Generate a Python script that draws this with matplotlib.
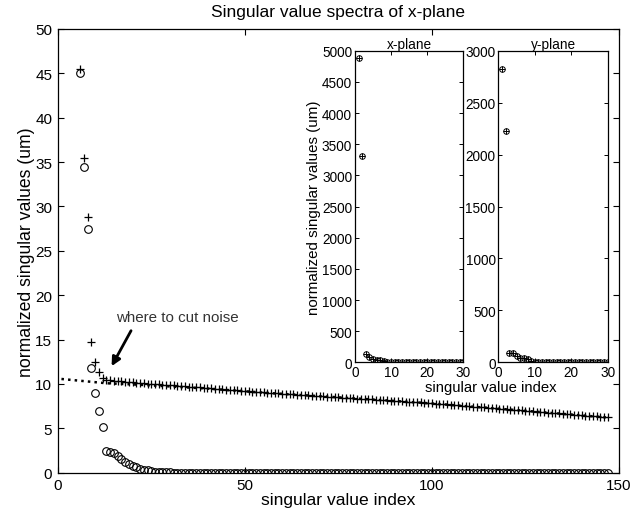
import numpy as np
import matplotlib
matplotlib.use('Agg')
import matplotlib.pyplot as plt

plt.rcParams['font.family'] = ['Liberation Sans', 'DejaVu Sans']

# main plot: normalized singular values, index 6..147
main_idx = np.arange(6, 148)

plus_vals = [45.5, 35.5, 28.8, 14.7, 12.5, 11.3, 10.7, 10.45,
             10.40, 10.36, 10.33, 10.29, 10.25, 10.22, 10.18,
             10.15, 10.12, 10.09, 10.05, 10.02, 9.99, 9.96, 9.92, 9.89, 9.86,
             9.83, 9.79, 9.76, 9.73, 9.70, 9.67, 9.63, 9.60, 9.57, 9.54,
             9.50, 9.47, 9.44, 9.40, 9.37, 9.34, 9.31, 9.27, 9.24, 9.21,
             9.17, 9.14, 9.11, 9.08, 9.04, 9.01, 8.98, 8.95, 8.93, 8.90,
             8.87, 8.85, 8.82, 8.79, 8.77, 8.74, 8.71, 8.69, 8.66, 8.63,
             8.61, 8.58, 8.55, 8.53, 8.50, 8.47, 8.44, 8.42, 8.39, 8.36,
             8.34, 8.31, 8.28, 8.26, 8.23, 8.20, 8.18, 8.15, 8.12, 8.10,
             8.07, 8.04, 8.01, 7.99, 7.96, 7.93, 7.91, 7.88, 7.85, 7.82,
             7.79, 7.75, 7.72, 7.69, 7.65, 7.62, 7.58, 7.55, 7.52, 7.48,
             7.45, 7.42, 7.38, 7.35, 7.32, 7.28, 7.25, 7.21, 7.18, 7.15,
             7.11, 7.08, 7.05, 7.01, 6.98, 6.95, 6.91, 6.88, 6.84, 6.81,
             6.78, 6.74, 6.71, 6.68, 6.64, 6.61, 6.58, 6.54, 6.51, 6.47,
             6.44, 6.41, 6.37, 6.34, 6.31, 6.27, 6.24]

circle_vals = [45.0, 34.5, 27.5, 11.8, 9.0, 7.0, 5.1, 2.4, 2.35, 2.2,
               1.9, 1.55, 1.25, 1.0, 0.8, 0.6, 0.45, 0.35, 0.25, 0.18,
               0.12, 0.08, 0.05, 0.03,
               0.03, 0.02, 0.02, 0.02, 0.02, 0.02, 0.02, 0.02, 0.02, 0.02,
               0.02, 0.02, 0.02, 0.02, 0.02, 0.01, 0.01, 0.01, 0.01, 0.01,
               0.01, 0.01, 0.01, 0.01, 0.01, 0.01, 0.01, 0.01, 0.01, 0.01,
               0.01, 0.01, 0.01, 0.01, 0.01, 0.01, 0.01, 0.01, 0.01, 0.01,
               0.01, 0.01, 0.01, 0.01, 0.01, 0.01, 0.01, 0.01, 0.01, 0.01,
               0.01, 0.01, 0.01, 0.01, 0.01, 0.01, 0.01, 0.01, 0.01, 0.01,
               0.01, 0.01, 0.01, 0.01, 0.01, 0.01, 0.01, 0.01, 0.01, 0.01,
               0.01, 0.01, 0.01, 0.01, 0.01, 0.01, 0.01, 0.01, 0.01, 0.01,
               0.01, 0.01, 0.01, 0.01, 0.01, 0.01, 0.01, 0.01, 0.01, 0.01,
               0.01, 0.01, 0.01, 0.01, 0.01, 0.01, 0.01, 0.01, 0.01, 0.01,
               0.01, 0.01, 0.01, 0.01, 0.01, 0.01, 0.01, 0.01, 0.01, 0.01,
               0.01, 0.01, 0.01, 0.01, 0.01, 0.01, 0.01, 0.01]

# dotted noise-floor curve
noise_idx = [1, 5, 10, 13, 20, 30, 40, 57, 80, 100, 120, 147]
noise_vals = [10.56, 10.40, 10.20, 10.08, 9.95, 9.72, 9.48, 8.96, 8.36, 7.80, 7.14, 6.22]

# insets: first 30 singular values
inset_idx = np.arange(1, 31)
x_plane = [4880, 3310, 135, 85, 55, 45, 35, 25, 12, 5,
           4, 3, 3, 3, 2, 2, 2, 2, 2, 2,
           2, 2, 1, 1, 1, 1, 1, 1, 1, 1]
y_plane = [2820, 2230, 90, 88, 60, 45, 38, 32, 15, 5,
           3, 3, 2, 2, 2, 2, 2, 2, 2, 2,
           1, 1, 1, 1, 1, 1, 1, 1, 1, 1]

fig = plt.figure(figsize=(6.44, 5.10), dpi=100)

ax = fig.add_axes([0.0896, 0.0712, 0.8716, 0.870])
ax.plot(noise_idx, noise_vals, color='black', linestyle=':', linewidth=1.8)
ax.plot(main_idx, plus_vals, linestyle='none', marker='+', color='black',
        markersize=5.5, markeredgewidth=0.9)
ax.plot(main_idx, circle_vals, linestyle='none', marker='o', color='black',
        markerfacecolor='none', markersize=5.5, markeredgewidth=0.8)
ax.set_xlim(0, 150)
ax.set_ylim(0, 50)
ax.set_xticks([0, 50, 100, 150])
ax.set_yticks(np.arange(0, 51, 5))
ax.tick_params(direction='in', top=True, right=True, labelsize=11, length=4, width=0.8, pad=4)
ax.set_title('Singular value spectra of x-plane', fontsize=12.5, pad=9)
ax.set_xlabel('singular value index', fontsize=12.6, labelpad=0)
ax.set_ylabel('normalized singular values (um)', fontsize=12.7, labelpad=0)
for s in ax.spines.values():
    s.set_linewidth(0.9)

# annotation: text and arrow placed separately
ax.text(31.9, 17.55, 'where to cut noise', fontsize=10.9, color='#333333',
        ha='center', va='center')
ax.annotate('', xy=(14.4, 12.0), xytext=(19.6, 16.0),
            arrowprops=dict(arrowstyle='-|>', color='black', lw=2.0, mutation_scale=13,
                            shrinkA=0, shrinkB=0))

def draw_inset(rect, vals, ymax, title):
    a = fig.add_axes(rect)
    a.plot(inset_idx, vals, linestyle='none', marker='o', color='black',
           markerfacecolor='none', markersize=4, markeredgewidth=0.7)
    a.plot(inset_idx, vals, linestyle='none', marker='+', color='black',
           markersize=4, markeredgewidth=0.7)
    a.set_xlim(0, 30)
    a.set_ylim(0, ymax)
    a.set_xticks([0, 10, 20, 30])
    a.set_yticks(np.arange(0, ymax + 1, 500))
    a.tick_params(direction='in', top=True, right=True, labelsize=9.8, length=3, width=0.7, pad=2)
    a.set_title(title, fontsize=9.8, pad=2)
    for s in a.spines.values():
        s.set_linewidth(0.9)
    return a

ax_x = draw_inset([0.5512, 0.2876, 0.1682, 0.611], x_plane, 5000, 'x-plane')
ax_x.set_ylabel('normalized singular values (um)', fontsize=10.9, labelpad=1)
ax_y = draw_inset([0.7738, 0.2876, 0.1699, 0.611], y_plane, 3000, 'y-plane')
fig.text(491 / 644, 1 - 388 / 510, 'singular value index', fontsize=10.7,
         ha='center', va='center')

fig.savefig('out.png', dpi=100)
